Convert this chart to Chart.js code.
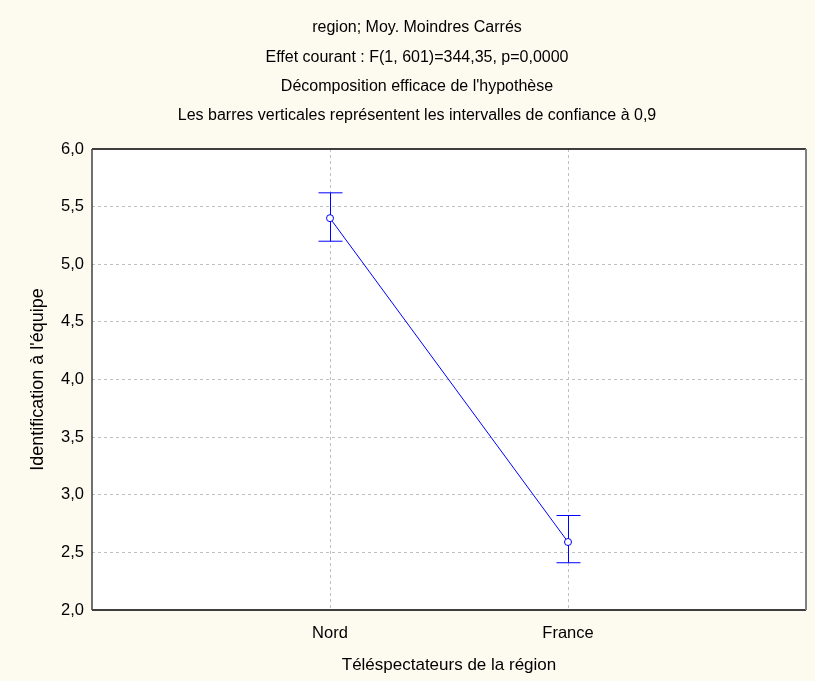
<!DOCTYPE html>
<html lang="fr">
<head>
    <meta charset="UTF-8">
    <title>region; Moy. Moindres Carrés</title>
    <script src="https://cdn.jsdelivr.net/npm/chart.js"></script>
    <style>
        body {
            margin: 0;
            padding: 0;
            background: #fdfaf0;
        }
        canvas {
            display: block;
        }
    </style>
</head>
<body>
    <canvas id="chart" width="815" height="681"></canvas>
    <script>
        // Data
        const categories = ['Nord', 'France'];
        const means = [5.40, 2.59];
        const upperCI = [5.62, 2.82];
        const lowerCI = [5.20, 2.41];

        const titleLines = [
            'region; Moy. Moindres Carrés',
            'Effet courant : F(1, 601)=344,35, p=0,0000',
            "Décomposition efficace de l'hypothèse",
            'Les barres verticales représentent les intervalles de confiance à 0,9'
        ];
        const xTitle = 'Téléspectateurs de la région';
        const yTitle = "Identification à l'équipe";

        const blue = '#0000ff';
        const gridColor = '#c0c0c0';

        Chart.defaults.font.family = "'Liberation Sans', Arial, sans-serif";
        Chart.defaults.color = '#000';

        // white plot area + frame around it
        const plotFrame = {
            id: 'plotFrame',
            beforeDraw(chart) {
                const { ctx, chartArea: a } = chart;
                ctx.save();
                ctx.fillStyle = '#ffffff';
                ctx.fillRect(a.left, a.top, a.right - a.left, a.bottom - a.top);
                ctx.restore();
            },
            afterDraw(chart) {
                const { ctx, chartArea: a } = chart;
                ctx.save();
                ctx.lineWidth = 1.5;
                ctx.strokeStyle = '#000';
                ctx.beginPath();
                ctx.moveTo(a.left, a.top);
                ctx.lineTo(a.right, a.top);
                ctx.moveTo(a.left, a.bottom);
                ctx.lineTo(a.right, a.bottom);
                ctx.stroke();
                ctx.strokeStyle = '#404040';
                ctx.beginPath();
                ctx.moveTo(a.left, a.top);
                ctx.lineTo(a.left, a.bottom);
                ctx.stroke();
                ctx.lineWidth = 2;
                ctx.strokeStyle = '#808080';
                ctx.beginPath();
                ctx.moveTo(a.right, a.top);
                ctx.lineTo(a.right, a.bottom);
                ctx.stroke();
                ctx.restore();
            }
        };

        // confidence interval whiskers, drawn under the points
        const errorBars = {
            id: 'errorBars',
            beforeDatasetsDraw(chart) {
                const { ctx, scales: { x, y } } = chart;
                ctx.save();
                ctx.strokeStyle = blue;
                ctx.lineWidth = 1;
                categories.forEach((c, i) => {
                    const px = Math.round(x.getPixelForValue(i + 1)) + 0.5;
                    const top = y.getPixelForValue(upperCI[i]);
                    const bot = y.getPixelForValue(lowerCI[i]);
                    ctx.beginPath();
                    ctx.moveTo(px, top);
                    ctx.lineTo(px, bot);
                    ctx.moveTo(px - 12, top);
                    ctx.lineTo(px + 12, top);
                    ctx.moveTo(px - 12, bot);
                    ctx.lineTo(px + 12, bot);
                    ctx.stroke();
                });
                ctx.restore();
            }
        };

        new Chart(document.getElementById('chart'), {
            type: 'line',
            data: {
                datasets: [{
                    data: means.map((m, i) => ({ x: i + 1, y: m })),
                    borderColor: blue,
                    borderWidth: 1,
                    pointRadius: 3.5,
                    pointBorderWidth: 1,
                    pointBackgroundColor: '#ffffff',
                    pointBorderColor: blue,
                    tension: 0
                }]
            },
            options: {
                responsive: false,
                animation: false,
                // left padding shifts the title centre to the right like the original
                layout: { padding: { top: 0, right: 9, bottom: 0, left: 28 } },
                plugins: {
                    legend: { display: false },
                    tooltip: { enabled: false },
                    title: {
                        display: true,
                        text: titleLines,
                        color: '#000',
                        font: { size: 16, weight: 'normal', lineHeight: 1.83 },
                        padding: { top: 13.4, bottom: 18.5 }
                    }
                },
                scales: {
                    x: {
                        type: 'linear',
                        min: 0,
                        max: 3,
                        afterFit: s => {
                            s.height = 71;
                            // labels at the ends are empty, no side padding needed
                            s.paddingLeft = 0;
                            s.paddingRight = 0;
                        },
                        ticks: {
                            stepSize: 1,
                            autoSkip: false,
                            maxRotation: 0,
                            padding: 14,
                            font: { size: 16.5 },
                            callback: v => categories[v - 1] || ''
                        },
                        grid: {
                            drawTicks: false,
                            color: c => (c.tick && (c.tick.value === 1 || c.tick.value === 2)) ? gridColor : 'transparent'
                        },
                        border: { display: false, dash: [3, 3] },
                        title: {
                            display: true,
                            text: xTitle,
                            font: { size: 17 },
                            padding: { top: 0, bottom: 5 }
                        }
                    },
                    y: {
                        min: 2,
                        max: 6,
                        afterFit: s => { s.width = 64; },
                        ticks: {
                            stepSize: 0.5,
                            padding: 8,
                            font: { size: 16.5 },
                            callback: v => v.toFixed(1).replace('.', ',')
                        },
                        grid: {
                            drawTicks: false,
                            color: c => (c.tick && c.tick.value > 2 && c.tick.value < 6) ? gridColor : 'transparent'
                        },
                        border: { display: false, dash: [3, 3] },
                        title: {
                            display: true,
                            text: yTitle,
                            font: { size: 18, lineHeight: 1 },
                            padding: { top: 1, bottom: 0 }
                        }
                    }
                }
            },
            plugins: [plotFrame, errorBars]
        });
    </script>
</body>
</html>
